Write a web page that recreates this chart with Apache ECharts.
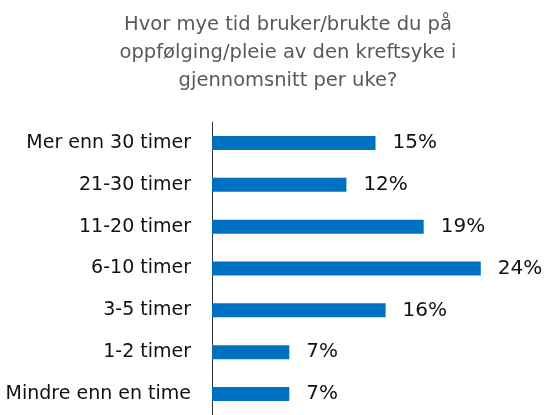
<!DOCTYPE html>
<html>
<head>
<meta charset="utf-8">
<script src="https://cdn.jsdelivr.net/npm/echarts@6/dist/echarts.min.js"></script>
<style>
  html, body { margin: 0; padding: 0; background: #fff; }
  #chart { width: 548px; height: 415px; }
</style>
</head>
<body>
<div id="chart"></div>
<script>
// categories top to bottom
const categories = ['Mer enn 30 timer', '21-30 timer', '11-20 timer', '6-10 timer', '3-5 timer', '1-2 timer', 'Mindre enn en time'];
// share of respondents, percent
const values = [14.6, 12.0, 18.9, 24.0, 15.5, 6.9, 6.9];
const titleText = 'Hvor mye tid bruker/brukte du på\noppfølging/pleie av den kreftsyke i\ngjennomsnitt per uke?';

const chart = echarts.init(document.getElementById('chart'));
const font = 'DejaVu Sans';

chart.setOption({
  animation: false,
  title: {
    text: titleText,
    left: 283,
    top: 6,
    textAlign: 'center',
    textStyle: {
      color: '#595959',
      fontFamily: font,
      fontWeight: 'normal',
      fontSize: 19.5,
      lineHeight: 28
    }
  },
  grid: {
    left: 212,
    top: 122,
    width: 341,
    height: 300
  },
  xAxis: {
    type: 'value',
    min: 0,
    max: 30,
    show: false
  },
  yAxis: {
    type: 'category',
    inverse: true,
    data: categories,
    axisLine: { show: true, lineStyle: { color: '#333333', width: 1 } },
    axisTick: { show: false },
    axisLabel: {
      margin: 21,
      color: '#111111',
      fontFamily: font,
      fontSize: 19
    }
  },
  series: [{
    type: 'bar',
    data: values,
    barWidth: 14,
    itemStyle: { color: '#0070C0' },
    label: {
      show: true,
      position: 'right',
      distance: 17,
      color: '#111111',
      fontFamily: font,
      fontSize: 20,
      formatter: p => Math.round(p.value) + '%'
    }
  }]
});
</script>
</body>
</html>
